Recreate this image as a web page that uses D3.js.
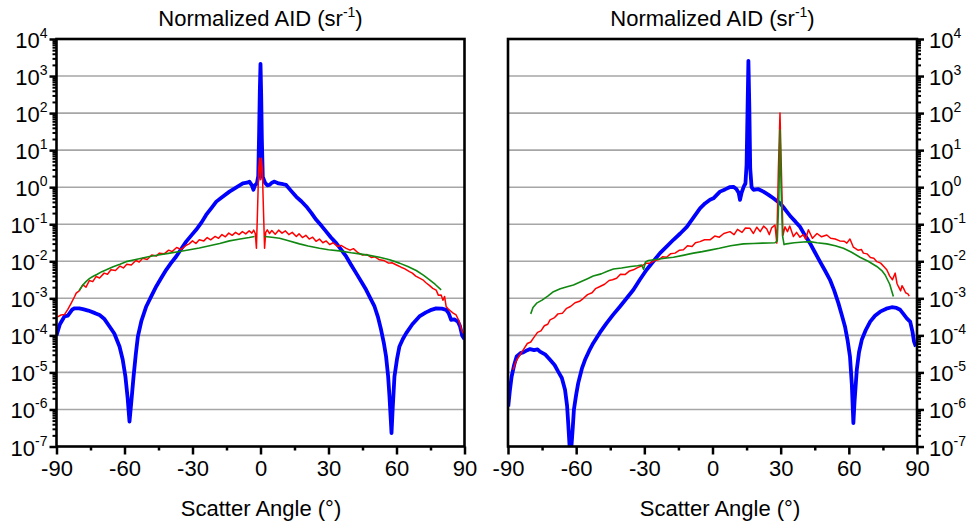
<!DOCTYPE html>
<html><head><meta charset="utf-8">
<script src="https://cdn.jsdelivr.net/npm/d3@7"></script>
<style>body{margin:0;background:#fff} svg text{font-family:Arial,"Liberation Sans",sans-serif;fill:#000}</style>
</head><body><svg id="c" width="968" height="525"></svg>
<script>
// ---------- data (angle in degrees, log10 of normalized AID) ----------
const xTicks = [-90, -60, -30, 0, 30, 60, 90];
const xMinorTicks = [-75, -45, -15, 15, 45, 75];
const yExps = [-7, -6, -5, -4, -3, -2, -1, 0, 1, 2, 3, 4];
const gridExps = [-6, -5, -4, -3, -2, -1, 0, 1, 2, 3];
const titleMain = "Normalized AID (sr";
const titleSup = "-1";
const xTitle = "Scatter Angle (°)";

const leftBlue = [[-90,-4.0],[-88.5,-3.7],[-86.5,-3.49],[-85,-3.47],[-83,-3.30],[-82,-3.27],[-80,-3.27],[-78.4,-3.29],[-76,-3.33],[-73,-3.40],[-71,-3.45],[-69,-3.55],[-66.6,-3.76],[-64.5,-3.95],[-62.2,-4.30],[-60.8,-4.65],[-59.6,-5.11],[-58.6,-5.7],[-57.8,-6.33],[-57.0,-5.8],[-56,-5.11],[-55,-4.5],[-54.1,-4.03],[-52.5,-3.6],[-50.4,-3.22],[-48,-2.92],[-46,-2.68],[-44,-2.47],[-41.6,-2.23],[-39.5,-2.05],[-37.2,-1.87],[-35,-1.67],[-32.8,-1.47],[-30.5,-1.30],[-28.4,-1.15],[-26,-0.95],[-24,-0.75],[-21.5,-0.55],[-19.5,-0.39],[-17,-0.27],[-13.7,-0.12],[-11,-0.02],[-7.8,0.10],[-6,0.12],[-4.9,0.15],[-3.8,0.05],[-3.1,-0.07],[-2.5,0.05],[-1.6,0.1],[-1.0,0.3],[-0.6,1.5],[-0.3,2.6],[0,3.33],[0.3,2.5],[0.6,1.3],[1.0,0.28],[2.0,0.12],[3,0.05],[4.0,0.06],[5,0.12],[6.2,0.15],[8,0.10],[10,0.08],[11.3,0.06],[13.5,-0.10],[15.8,-0.26],[18,-0.38],[20.2,-0.52],[22.5,-0.70],[24.6,-0.88],[27,-1.05],[29,-1.20],[31,-1.35],[33.4,-1.51],[35.5,-1.68],[37.8,-1.87],[40,-2.10],[42.2,-2.32],[44.5,-2.55],[46.6,-2.77],[48.5,-3.0],[50.3,-3.22],[51.8,-3.5],[53.2,-3.85],[54.4,-4.2],[55.4,-4.57],[56.3,-5.1],[56.9,-5.65],[57.5,-6.3],[57.8,-6.64],[58.3,-6.0],[59.1,-5.11],[60.2,-4.65],[61.3,-4.30],[62.8,-4.1],[64.3,-3.94],[67,-3.70],[70.1,-3.49],[73,-3.38],[75,-3.32],[77.5,-3.27],[80,-3.28],[81.9,-3.31],[83,-3.4],[84.1,-3.58],[85.5,-3.57],[87.1,-3.63],[88,-3.75],[89,-4.01],[90,-4.1]];

const leftRed = [[-89.5,-3.5],[-88,-3.45],[-86.5,-3.44],[-85,-3.30],[-83.5,-3.13],[-82,-2.95],[-81.3,-2.86],[-80,-2.80],[-78.4,-2.64],[-77,-2.70],[-75.5,-2.52],[-74,-2.55],[-72.5,-2.41],[-71,-2.45],[-69,-2.32],[-67.5,-2.35],[-66,-2.23],[-64,-2.25],[-62,-2.13],[-60.5,-2.18],[-59,-2.08],[-57,-2.10],[-55,-1.98],[-53.5,-2.02],[-52,-1.92],[-50,-1.95],[-48,-1.83],[-46,-1.86],[-44.6,-1.78],[-42.5,-1.80],[-40.5,-1.70],[-39,-1.74],[-37,-1.63],[-35,-1.68],[-33,-1.58],[-31.5,-1.53],[-30,-1.45],[-28.5,-1.52],[-27,-1.42],[-25,-1.45],[-23.5,-1.36],[-22,-1.42],[-20,-1.33],[-18.5,-1.38],[-17,-1.28],[-15.5,-1.34],[-14,-1.24],[-12.5,-1.30],[-11,-1.22],[-9.5,-1.28],[-8,-1.20],[-6.5,-1.26],[-5,-1.18],[-3.8,-1.24],[-3,-1.16],[-2.3,-1.25],[-1.8,-1.65],[-1.3,-0.6],[-0.8,0.5],[-0.4,0.78],[0,0.2],[0.4,0.78],[0.8,0.5],[1.3,-0.6],[1.8,-1.65],[2.3,-1.22],[3,-1.15],[4,-1.25],[5,-1.17],[6.5,-1.27],[8,-1.16],[9.5,-1.24],[11,-1.18],[12.5,-1.28],[14,-1.22],[15.8,-1.33],[17,-1.26],[18.5,-1.36],[20,-1.30],[21.5,-1.40],[23,-1.35],[24.5,-1.46],[26,-1.40],[27.5,-1.50],[29,-1.45],[30.5,-1.55],[32,-1.50],[34,-1.60],[35.5,-1.57],[37.8,-1.65],[39.5,-1.70],[41,-1.66],[43,-1.77],[45,-1.83],[47,-1.82],[49,-1.90],[50.5,-1.88],[52.5,-1.96],[54.5,-1.98],[56.5,-2.05],[58,-2.04],[60,-2.10],[62,-2.16],[63.5,-2.20],[65.7,-2.28],[67,-2.32],[68.5,-2.40],[70,-2.45],[71.6,-2.50],[73,-2.58],[74.5,-2.65],[76,-2.73],[77.5,-2.78],[78.5,-2.92],[79.7,-2.91],[80.5,-3.05],[81.2,-2.95],[81.9,-3.22],[83,-3.30],[84,-3.35],[85,-3.40],[86.3,-3.45],[87.5,-3.60],[88.5,-3.80],[89.3,-3.94]];

const leftGreen = [[-80,-2.79],[-78.5,-2.65],[-77,-2.55],[-75.5,-2.47],[-74,-2.41],[-72,-2.35],[-70,-2.28],[-68,-2.23],[-65,-2.15],[-62,-2.08],[-59.3,-2.01],[-55,-1.95],[-52,-1.91],[-49,-1.87],[-45,-1.83],[-40,-1.78],[-35,-1.73],[-31.3,-1.69],[-27,-1.64],[-22.5,-1.58],[-18,-1.52],[-13.7,-1.45],[-9,-1.40],[-5,-1.36],[-2.6,-1.33],[0,null],[1.8,-1.33],[5,-1.35],[8.4,-1.38],[12,-1.44],[17.2,-1.53],[21,-1.59],[26,-1.65],[30,-1.69],[34.8,-1.72],[40,-1.77],[43.7,-1.80],[48,-1.84],[52.5,-1.89],[57,-1.96],[61.3,-2.05],[65,-2.14],[68.7,-2.25],[72,-2.38],[74.6,-2.50],[77,-2.62],[79.7,-2.77]];

const rightBlue = [[-89.9,-5.92],[-89.2,-5.5],[-88.4,-5.11],[-87.3,-4.8],[-86.2,-4.57],[-84.5,-4.48],[-83.3,-4.46],[-81.5,-4.40],[-80.3,-4.37],[-78.5,-4.40],[-77,-4.38],[-75.9,-4.44],[-73.5,-4.52],[-71.5,-4.66],[-69.5,-4.80],[-67.9,-4.98],[-66.3,-5.15],[-64.9,-5.47],[-64,-5.9],[-63.5,-6.37],[-62.8,-7.1],[-62.2,-7.1],[-61.5,-6.5],[-61,-6.01],[-60,-5.6],[-59.1,-5.29],[-57.5,-4.9],[-56.1,-4.66],[-54.3,-4.42],[-52.5,-4.21],[-49.5,-3.92],[-46.6,-3.67],[-43.7,-3.44],[-40.7,-3.22],[-37.7,-2.99],[-34.8,-2.77],[-32,-2.50],[-29,-2.23],[-26,-2.00],[-23.1,-1.78],[-20.1,-1.60],[-17.2,-1.42],[-14.2,-1.25],[-11.3,-1.07],[-8.4,-0.82],[-5.5,-0.57],[-3.3,-0.44],[-1.1,-0.34],[0.4,-0.30],[2,-0.20],[3.3,-0.12],[5.5,-0.06],[7.5,0.0],[9.2,0.01],[10.5,-0.05],[11.5,-0.15],[12.1,-0.34],[12.8,-0.15],[13.8,0.02],[14.5,0.10],[15.0,0.6],[15.4,2.0],[15.8,3.41],[16.2,2.2],[16.6,0.5],[17.2,0.0],[18,-0.07],[20,-0.05],[22.4,-0.12],[24.5,-0.20],[26.8,-0.30],[28.5,-0.38],[30,-0.45],[31.3,-0.55],[32.7,-0.66],[34.5,-0.80],[36.5,-0.93],[38.5,-1.07],[40.5,-1.28],[42.9,-1.51],[45,-1.75],[47.3,-2.01],[49.5,-2.25],[51.7,-2.50],[53.5,-2.78],[55.4,-3.13],[56.9,-3.45],[58.3,-3.76],[59.5,-4.15],[60.5,-4.57],[61.3,-5.3],[62,-6.37],[62.5,-5.8],[63.5,-4.93],[64.5,-4.45],[65.7,-4.12],[67.5,-3.85],[69.4,-3.63],[71.5,-3.47],[73.8,-3.36],[76.5,-3.28],[78.9,-3.24],[81,-3.26],[82.6,-3.31],[84,-3.42],[85.5,-3.54],[86.5,-3.60],[87,-3.63],[88,-3.90],[88.7,-4.17],[89.5,-4.3]];

const rightRed = [[-87.7,-4.93],[-86.5,-4.70],[-85,-4.55],[-83.3,-4.39],[-81.5,-4.22],[-80,-4.18],[-78.9,-4.08],[-77,-3.92],[-75.5,-3.88],[-74,-3.74],[-72.5,-3.70],[-71.5,-3.58],[-69.5,-3.52],[-68,-3.42],[-66,-3.40],[-64.2,-3.27],[-62.5,-3.22],[-60.5,-3.12],[-58.5,-3.08],[-56.8,-3.00],[-55,-2.90],[-53,-2.85],[-51.5,-2.74],[-49.5,-2.68],[-47.5,-2.62],[-45.5,-2.52],[-44,-2.50],[-42.2,-2.46],[-40.5,-2.35],[-38.5,-2.36],[-36.5,-2.26],[-34.8,-2.23],[-33,-2.17],[-31,-2.12],[-29,-2.05],[-27.5,-2.05],[-25.5,-1.98],[-23.5,-1.95],[-22,-1.88],[-20.2,-1.89],[-18.5,-1.80],[-16.5,-1.78],[-14.5,-1.70],[-12.8,-1.69],[-11,-1.58],[-9,-1.60],[-7.5,-1.50],[-5.5,-1.47],[-3.5,-1.42],[-1.1,-1.42],[1,-1.32],[3,-1.35],[5,-1.25],[7.7,-1.20],[9.5,-1.28],[11,-1.14],[13,-1.22],[14.5,-1.10],[16.5,-1.11],[18,-1.25],[19.5,-1.08],[21,-1.20],[22.5,-1.05],[23.9,-1.13],[25,-1.28],[26,-1.10],[27.5,-1.02],[28.3,-1.51],[29,0.5],[29.7,2.0],[30.3,0.5],[31,-1.3],[31.9,-1.07],[33,-1.20],[34,-1.05],[35.6,-1.33],[37,-1.22],[38.5,-1.35],[40,-1.28],[41,-1.40],[42.2,-1.15],[44,-1.38],[46,-1.25],[48,-1.34],[50.3,-1.29],[52,-1.38],[54,-1.40],[56,-1.45],[58,-1.46],[59.1,-1.51],[60.5,-1.40],[62,-1.62],[64,-1.70],[65.5,-1.68],[66.4,-1.78],[68,-1.80],[69.5,-1.90],[71,-1.92],[72.3,-2.01],[74,-2.05],[75.5,-2.15],[76.7,-2.23],[78,-2.40],[79.2,-2.50],[80.4,-2.32],[81.2,-2.60],[81.8,-2.68],[82.8,-2.80],[83.4,-2.66],[84.1,-2.73],[85,-2.85],[86,-2.88],[86.6,-2.94]];

const rightGreen = [[-80,-3.42],[-79,-3.25],[-77.4,-3.13],[-75,-3.05],[-72.5,-2.94],[-70,-2.82],[-67,-2.74],[-64,-2.69],[-61.2,-2.64],[-58,-2.55],[-55,-2.47],[-52.5,-2.40],[-49,-2.34],[-46,-2.26],[-43.6,-2.21],[-40,-2.18],[-36,-2.14],[-33,-2.12],[-31.2,-2.10],[-30.3,-2.22],[-29.5,-2.02],[-28.2,-1.98],[-25,-1.95],[-21,-1.92],[-17.2,-1.89],[-13,-1.84],[-8.4,-1.78],[-4.5,-1.74],[-1.1,-1.70],[3,-1.65],[8,-1.58],[13.6,-1.53],[18,-1.52],[22,-1.51],[27.5,-1.50],[28.5,-1.45],[29.2,-0.3],[29.7,1.54],[30.2,0.0],[30.8,-1.3],[31.5,-1.55],[32.5,-1.53],[36,-1.50],[40,-1.48],[42.9,-1.47],[46,-1.50],[50.3,-1.53],[54,-1.58],[57.6,-1.65],[61,-1.75],[64.9,-1.89],[68.5,-2.00],[72.3,-2.14],[74.5,-2.25],[76,-2.37],[78,-2.62],[79.6,-2.95]];

// ---------- drawing ----------
const svg = d3.select("#c");
const plotTop = 39, plotBottom = 446.5;
const y = d3.scaleLog().domain([1e-7, 1e4]).range([plotBottom, plotTop]);
const panels = [
  {id:"L", x0:56.5, x1:464.5, side:"left", blue:leftBlue, red:leftRed, green:leftGreen, titleX:0, axisTitleX:261},
  {id:"R", x0:508, x1:917, side:"right", blue:rightBlue, red:rightRed, green:rightGreen, titleX:0, axisTitleX:720}
];
const minorVals = [];
yExps.slice(0,-1).forEach(e => { for (let m=2;m<=9;m++) minorVals.push(m*Math.pow(10,e)); });

panels.forEach(p => {
  const x = d3.scaleLinear().domain([-90, 90]).range([p.x0, p.x1]);
  const g = svg.append("g");
  g.append("clipPath").attr("id","clip"+p.id).append("rect")
    .attr("x",p.x0).attr("y",plotTop).attr("width",p.x1-p.x0).attr("height",plotBottom-plotTop);

  g.selectAll("line.grid").data(gridExps).join("line").attr("class","grid")
    .attr("x1",p.x0).attr("x2",p.x1)
    .attr("y1",d=>y(Math.pow(10,d))).attr("y2",d=>y(Math.pow(10,d)))
    .attr("stroke","#a6a6a6").attr("stroke-width",1.6);

  const line = d3.line().defined(d=>d[1]!==null)
    .x(d=>x(d[0])).y(d=>y(Math.pow(10,d[1])));
  const cg = g.append("g").attr("clip-path","url(#clip"+p.id+")");
  cg.append("path").datum(p.blue).attr("d",line).attr("fill","none")
    .attr("stroke","#0000ff").attr("stroke-width",3.8).attr("stroke-linejoin","round");
  cg.append("path").datum(p.red).attr("d",line).attr("fill","none")
    .attr("stroke","#ff0000").attr("stroke-width",1.5).attr("stroke-linejoin","round");
  cg.append("path").datum(p.green).attr("d",line).attr("fill","none")
    .attr("stroke","#118811").attr("stroke-width",1.6).attr("stroke-linejoin","round");

  const xa = d3.axisBottom(x).tickValues(xTicks).tickSize(8).tickFormat(d=>d);
  const xg = g.append("g").attr("transform",`translate(0,${plotBottom})`).call(xa);
  xg.select(".domain").remove();
  xg.selectAll(".tick line").attr("stroke","#000").attr("stroke-width",2.5);
  xg.selectAll(".tick text").attr("font-size",22).attr("dy",null).attr("y",29)
    .attr("font-family","Arial, 'Liberation Sans', sans-serif");
  const xm = d3.axisBottom(x).tickValues(xMinorTicks).tickSize(4).tickFormat("");
  const xmg = g.append("g").attr("transform",`translate(0,${plotBottom})`).call(xm);
  xmg.select(".domain").remove();
  xmg.selectAll(".tick line").attr("stroke","#000").attr("stroke-width",2.5);

  const ax = p.side==="left" ? d3.axisLeft : d3.axisRight;
  const yx = p.side==="left" ? p.x0 : p.x1;
  const ya = ax(y).tickValues(yExps.map(e=>Math.pow(10,e))).tickSize(7).tickFormat("");
  const yg = g.append("g").attr("transform",`translate(${yx},0)`).call(ya);
  yg.select(".domain").remove();
  yg.selectAll(".tick line").attr("stroke","#000").attr("stroke-width",2.5);
  const ym = ax(y).tickValues(minorVals).tickSize(4).tickFormat("");
  const ymg = g.append("g").attr("transform",`translate(${yx},0)`).call(ym);
  ymg.select(".domain").remove();
  ymg.selectAll(".tick line").attr("stroke","#000").attr("stroke-width",2);

  yExps.forEach(e => {
    const t = g.append("text").attr("font-size",22)
      .attr("text-anchor", p.side==="left" ? "end" : "start")
      .attr("x", p.side==="left" ? p.x0-9 : p.x1+12)
      .attr("y", y(Math.pow(10,e))+9);
    t.append("tspan").text("10");
    t.append("tspan").attr("font-size",14).attr("dy",-10).text(String(e));
  });

  g.append("rect").attr("x",p.x0).attr("y",plotTop).attr("width",p.x1-p.x0).attr("height",plotBottom-plotTop)
    .attr("fill","none").attr("stroke","#000").attr("stroke-width",2.6);

  const tt = g.append("text").attr("x",x(p.titleX)).attr("y",26).attr("text-anchor","middle").attr("font-size",22);
  tt.append("tspan").text(titleMain);
  tt.append("tspan").attr("font-size",14).attr("dy",-9).text(titleSup);
  tt.append("tspan").attr("dy",9).text(")");

  g.append("text").attr("x",p.axisTitleX).attr("y",516).attr("text-anchor","middle")
    .attr("font-size",22).text(xTitle);
});
</script></body></html>
